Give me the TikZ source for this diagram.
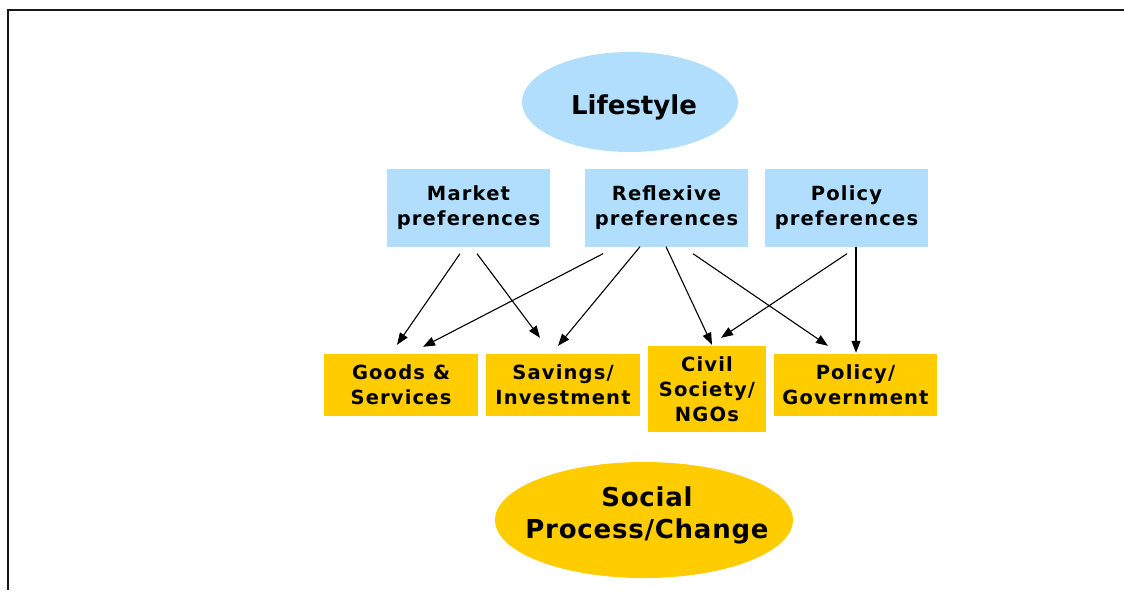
\documentclass[tikz,border=0pt]{standalone}
\usepackage{fontspec}
\setmainfont{DejaVu Sans}
\newfontfamily\spaced{DejaVu Sans}[LetterSpace=6.0]
\newfontfamily\lightspaced{DejaVu Sans}[LetterSpace=3.0]
\usetikzlibrary{shapes.geometric,arrows.meta}
\definecolor{skyblue}{RGB}{176,222,252}
\definecolor{amber}{RGB}{255,204,0}
\tikzset{
  boxtext/.style={inner sep=0pt, align=center,
    font=\spaced\bfseries\fontsize{19.5}{25}\selectfont},
  prefbox/.style={rectangle, fill=skyblue, boxtext},
  outbox/.style={rectangle, fill=amber, boxtext},
  oval/.style={ellipse, inner sep=0pt},
  arr/.style={line width=1.1pt, -{Triangle[length=12pt,width=9pt]}},
  frameline/.style={line width=2pt, black!90}
}
\begin{document}
\begin{tikzpicture}[x=1pt,y=-1pt]
\useasboundingbox (0,0) rectangle (1124,590);
% open frame: top and left edges
\draw[frameline] (8,590) -- (8,9.5) -- (1124,9.5);

% top ellipse and its caption
\node[oval, fill=skyblue, minimum width=216pt, minimum height=100pt] (life) at (630,102) {};
\node[font=\bfseries\fontsize{26}{30}\selectfont, inner sep=0pt, anchor=base]
  (lifetext) at (634,114) {Lifestyle};

% preference boxes
\node[prefbox, minimum width=163pt, minimum height=78pt] (market) at (468.5,207.5) {Market\\preferences};
\node[prefbox, minimum width=163pt, minimum height=78pt] (reflex) at (666.5,207.5) {Reflexive\\preferences};
\node[prefbox, minimum width=163pt, minimum height=78pt] (polpref) at (846.5,207.5) {Policy\\preferences};

% outcome boxes
\node[outbox, minimum width=154pt, minimum height=62pt] (goods) at (401,385) {Goods \&\\Services};
\node[outbox, minimum width=154pt, minimum height=62pt] (savings) at (563,385) {Savings/\\Investment};
\node[outbox, minimum width=118pt, minimum height=86pt] (civil) at (707,389) {Civil\\Society/\\NGOs};
\node[outbox, minimum width=163pt, minimum height=62pt] (polgov) at (855.5,385) {Policy/\\Government};

% bottom ellipse and its caption
\node[oval, fill=amber, minimum width=298pt, minimum height=116pt] (social) at (644,520) {};
\node[align=center, inner sep=0pt, font=\lightspaced\bfseries\fontsize{26}{32}\selectfont]
  (socialtext) at (647,515) {Social\\Process/Change};

% connectors
\draw[arr] ([shift={(-8.5,7)}]market.south) -- ([shift={(-4,-9)}]goods.north);
\draw[arr] ([shift={(8.5,7)}]market.south) -- ([shift={(-23,-16)}]savings.north);
\draw[arr] ([shift={(-63.5,7)}]reflex.south) -- ([shift={(22,-7)}]goods.north);
\draw[arr] ([shift={(-26.5,0)}]reflex.south) -- ([shift={(-5,-8)}]savings.north);
\draw[arr] ([shift={(-0.5,0)}]reflex.south) -- ([shift={(5,-1)}]civil.north);
\draw[arr] ([shift={(26.5,7)}]reflex.south) -- ([shift={(-27.5,-8)}]polgov.north);
\draw[arr] ([shift={(0.5,7)}]polpref.south) -- ([shift={(14,-8)}]civil.north);
\draw[arr] ([shift={(9.5,0)}]polpref.south) -- ([shift={(0.5,-1)}]polgov.north);
\end{tikzpicture}
\end{document}
